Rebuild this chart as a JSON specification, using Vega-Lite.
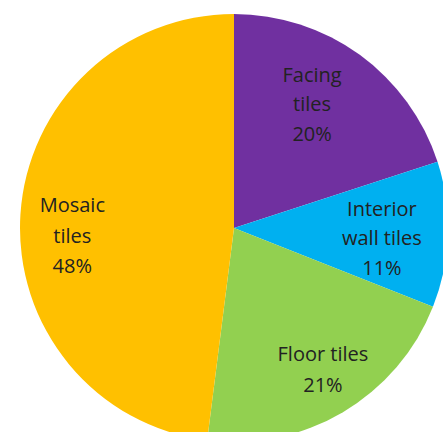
{
  "$schema": "https://vega.github.io/schema/vega-lite/v6.json",
  "width": 443,
  "height": 432,
  "autosize": {"type": "fit", "contains": "padding"},
  "padding": {"left": 25, "top": 24, "right": 0, "bottom": 0},
  "background": "white",
  "view": {"stroke": null},
  "data": {"values": [
    {"name": "Facing tiles", "label": "Facing\ntiles\n20%", "value": 20, "order": 1},
    {"name": "Interior wall tiles", "label": "Interior\nwall tiles\n11%", "value": 11, "order": 2},
    {"name": "Floor tiles", "label": "Floor tiles\n21%", "value": 21, "order": 3},
    {"name": "Mosaic tiles", "label": "Mosaic\ntiles\n48%", "value": 48, "order": 4}
  ]},
  "encoding": {
    "theta": {"field": "value", "type": "quantitative", "stack": true},
    "order": {"field": "order", "type": "quantitative"}
  },
  "layer": [
    {
      "mark": {"type": "arc", "outerRadius": 214},
      "encoding": {
        "color": {
          "field": "name", "type": "nominal", "legend": null,
          "scale": {
            "domain": ["Facing tiles", "Interior wall tiles", "Floor tiles", "Mosaic tiles"],
            "range": ["#7030A0", "#00B0F0", "#92D050", "#FFC000"]
          }
        }
      }
    },
    {
      "mark": {"type": "text", "radius": 155, "dx": -13, "dy": -27, "font": "Open Sans", "fontSize": 20, "lineHeight": 29.5, "lineBreak": "\n", "color": "#222222", "align": "center", "baseline": "middle"},
      "encoding": {"text": {"condition": {"test": "datum.name === 'Facing tiles'", "field": "label"}, "value": ""}}
    },
    {
      "mark": {"type": "text", "radius": 155, "dx": -7, "dy": -23, "font": "Open Sans", "fontSize": 20, "lineHeight": 29.5, "lineBreak": "\n", "color": "#222222", "align": "center", "baseline": "middle"},
      "encoding": {"text": {"condition": {"test": "datum.name === 'Interior wall tiles'", "field": "label"}, "value": ""}}
    },
    {
      "mark": {"type": "text", "radius": 155, "dx": 10, "dy": -6, "font": "Open Sans", "fontSize": 20, "lineHeight": 30.5, "lineBreak": "\n", "color": "#222222", "align": "center", "baseline": "middle"},
      "encoding": {"text": {"condition": {"test": "datum.name === 'Floor tiles'", "field": "label"}, "value": ""}}
    },
    {
      "mark": {"type": "text", "radius": 155, "dx": -7, "dy": -12, "font": "Open Sans", "fontSize": 20, "lineHeight": 30.5, "lineBreak": "\n", "color": "#222222", "align": "center", "baseline": "middle"},
      "encoding": {"text": {"condition": {"test": "datum.name === 'Mosaic tiles'", "field": "label"}, "value": ""}}
    }
  ]
}
